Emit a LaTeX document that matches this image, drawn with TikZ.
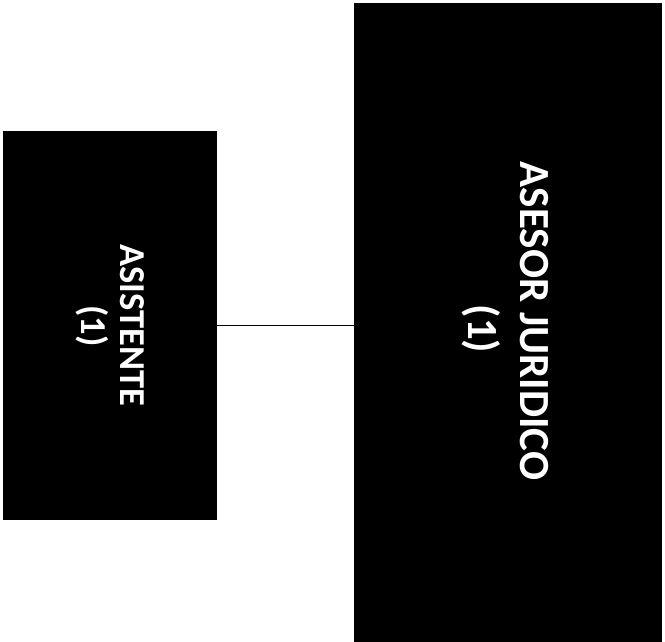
\documentclass[tikz,border=0pt]{standalone}
\usepackage{fontspec}
\setmainfont{Carlito}
\begin{document}
\begin{tikzpicture}[x=1pt,y=1pt,
  box/.style={draw=none,fill=black,inner sep=0pt,outer sep=0pt},
  lbl/.style={text=white,inner sep=0pt,anchor=base,rotate=-90},
  conn/.style={draw=black,line width=1pt}]
\useasboundingbox (0,0) rectangle (665,642);
\node[box,minimum width=214.3pt,minimum height=389pt] (asist) at (109.85,316.5) {};
\node[box,minimum width=308pt,minimum height=639pt] (asesor) at (508,319.5) {};
\node[lbl,font=\fontsize{36.5}{40}\selectfont\bfseries] (asistT) at (120,317) {ASISTENTE};
\node[lbl,font=\fontsize{36.5}{40}\selectfont\bfseries] (asistN) at (81,316) {(1)};
\node[lbl,font=\fontsize{43}{50}\selectfont\bfseries] (asesorT) at (520,321) {ASESOR JURIDICO};
\node[lbl,font=\fontsize{43}{50}\selectfont\bfseries] (asesorN) at (468,313) {(1)};
\draw[conn] (asist.east) -- (asist.east -| asesor.west);
\end{tikzpicture}
\end{document}
